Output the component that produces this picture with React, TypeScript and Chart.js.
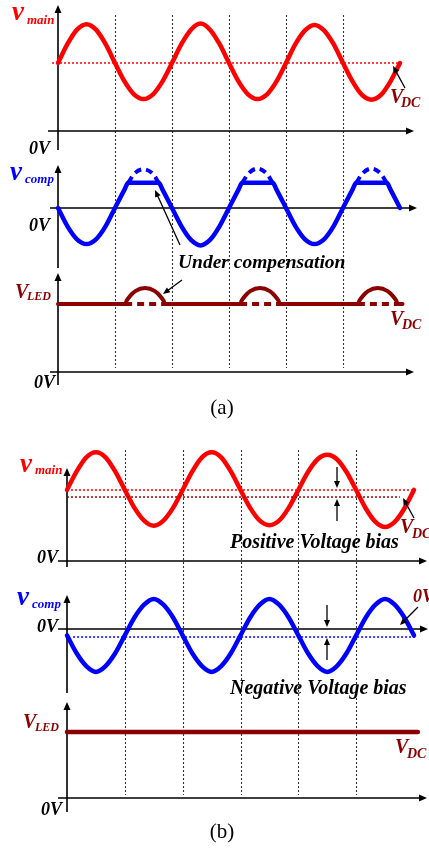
import React, { useEffect, useRef } from "react";
import { Chart, registerables } from "chart.js";
Chart.register(...registerables);

// ---------------- data: phase in degrees, voltages in per-unit ----------------
const PHASE = [0, 30, 60, 90, 120, 150, 180, 210, 240, 270, 300, 330, 360, 390, 420, 450, 480, 510, 540, 570, 600, 630, 660, 690, 720, 750, 780, 810, 840, 870, 900, 930, 960, 990, 1020, 1050, 1080];

// (a) v_main
const MAIN_A = [1.0, 1.28, 1.49, 1.57, 1.49, 1.28, 1.0, 0.73, 0.54, 0.47, 0.54, 0.73, 1.0, 1.28, 1.49, 1.58, 1.49, 1.28, 1.0, 0.73, 0.54, 0.47, 0.54, 0.73, 1.0, 1.28, 1.48, 1.56, 1.48, 1.28, 1.0, 0.73, 0.53, 0.46, 0.53, 0.73, 1.0];
const VDC_A_X = [-19, 1080];
const VDC_A_Y = [1.0, 1.0];
// (a) v_comp (clipped) and its uncompensated part (dashed)
const COMP_A_X = [0, 30, 60, 90, 120, 150, 180, 210, 222, 318, 330, 360, 390, 420, 450, 480, 510, 540, 570, 582, 678, 690, 720, 750, 780, 810, 840, 870, 900, 930, 942, 1038, 1050, 1080];
const COMP_A_Y = [0, -0.27, -0.46, -0.53, -0.46, -0.27, 0, 0.27, 0.37, 0.37, 0.27, 0, -0.27, -0.47, -0.55, -0.47, -0.27, 0, 0.27, 0.37, 0.37, 0.27, 0, -0.27, -0.46, -0.53, -0.46, -0.27, 0, 0.27, 0.37, 0.37, 0.27, 0];
const COMP_A_FULL_X = [222, 240, 270, 300, 318, 450, 582, 600, 630, 660, 678, 810, 942, 960, 990, 1020, 1038];
const COMP_A_FULL_Y = [0.37, 0.5, 0.57, 0.5, 0.37, null, 0.37, 0.5, 0.58, 0.5, 0.37, null, 0.37, 0.5, 0.58, 0.5, 0.37];
// (a) V_LED
const LED_A_X = [0, 212, 217, 228, 244, 275, 306, 322, 333, 338, 575, 580, 591, 607, 638, 669, 685, 696, 701, 947, 952, 963, 979, 1010, 1041, 1057, 1068, 1073, 1088];
const LED_A_Y = [1, 1, 1.05, 1.12, 1.19, 1.235, 1.19, 1.12, 1.05, 1, 1, 1.05, 1.12, 1.19, 1.235, 1.19, 1.12, 1.05, 1, 1, 1.05, 1.12, 1.19, 1.235, 1.19, 1.12, 1.05, 1, 1];
const LED_A_FLAT_X = [212, 338, 455, 575, 701, 820, 947, 1073];
const LED_A_FLAT_Y = [1, 1, null, 1, 1, null, 1, 1];
const GUIDES_A = [180, 360, 540, 720, 900];

// (b) v_main with positive bias
const MAIN_B = [1.11, 1.4, 1.62, 1.7, 1.62, 1.4, 1.11, 0.83, 0.63, 0.55, 0.63, 0.83, 1.11, 1.4, 1.62, 1.7, 1.62, 1.4, 1.11, 0.83, 0.63, 0.56, 0.63, 0.83, 1.11, 1.39, 1.59, 1.66, 1.59, 1.39, 1.11, 0.82, 0.61, 0.53, 0.61, 0.82, 1.11];
const MEAN_B_X = [0, 1080];
const MEAN_B_Y = [1.11, 1.11];
const VDC_B_X = [0, 1036];
const VDC_B_Y = [1.0, 1.0];
// (b) v_comp with negative bias
const COMP_B = [-0.1, -0.38, -0.58, -0.67, -0.58, -0.38, -0.1, 0.18, 0.38, 0.47, 0.38, 0.18, -0.1, -0.38, -0.58, -0.67, -0.58, -0.38, -0.1, 0.18, 0.38, 0.47, 0.38, 0.18, -0.1, -0.38, -0.58, -0.67, -0.58, -0.38, -0.1, 0.18, 0.38, 0.47, 0.38, 0.18, -0.1];
const COMP_MEAN_B_X = [19, 1089];
const COMP_MEAN_B_Y = [-0.125, -0.125];
// (b) V_LED
const LED_B_X = [0, 1092];
const LED_B_Y = [1, 1];
const GUIDES_B = [180, 360, 540, 720, 900];

// ---------------- layout / style ----------------
const W = 429;
const H = 848;
const RED = "#ff0000";
const BLUE = "#0000ff";
const DARK = "#8b0000";
const FONT = '"Liberation Serif", "Times New Roman", serif';

function xScale(originPx: number, pxPerDeg: number) {
  const min = -originPx / pxPerDeg;
  return { type: "linear", axis: "x", display: false, min, max: min + W / pxPerDeg };
}
function yScale(zeroPx: number, pxPerUnit: number) {
  const max = zeroPx / pxPerUnit;
  return { type: "linear", axis: "y", display: false, min: max - H / pxPerUnit, max };
}

const AXES = [
  { x: "xa", y: "ya1", top: 5, bottom: 150, left: 48, right: 414 },
  { x: "xa", y: "ya2", top: 165, bottom: 268, left: 50, right: 417 },
  { x: "xa", y: "ya3", top: 273, bottom: 385, left: 50, right: 414 },
  { x: "xb", y: "yb1", top: 468, bottom: 567, left: 58, right: 427 },
  { x: "xb", y: "yb2", top: 595, bottom: 693, left: 58, right: 428 },
  { x: "xb", y: "yb3", top: 702, bottom: 812, left: 58, right: 427 },
];
const GUIDE_SETS = [
  { x: "xa", phases: GUIDES_A, top: 15, bottom: 368 },
  { x: "xb", phases: GUIDES_B, top: 450, bottom: 795 },
];

type T = { t: string; x: number; y: number; s: number; c?: string; a?: CanvasTextAlign; n?: boolean };
const TEXTS: T[] = [
  { t: "v", x: 12, y: 20, s: 27, c: RED },
  { t: "main", x: 27, y: 24, s: 13, c: RED },
  { t: "0V", x: 50, y: 154, s: 18, a: "right" },
  { t: "v", x: 10, y: 180, s: 27, c: BLUE },
  { t: "comp", x: 25, y: 183, s: 13, c: BLUE },
  { t: "0V", x: 50, y: 231, s: 18, a: "right" },
  { t: "V", x: 15, y: 298, s: 20, c: DARK },
  { t: "LED", x: 27, y: 300, s: 12, c: DARK },
  { t: "0V", x: 55, y: 388, s: 18, a: "right" },
  { t: "V", x: 390, y: 103, s: 20, c: DARK },
  { t: "DC", x: 401, y: 107, s: 14, c: DARK },
  { t: "V", x: 390, y: 325, s: 20, c: DARK },
  { t: "DC", x: 402, y: 329, s: 14, c: DARK },
  { t: "Under compensation", x: 178, y: 268, s: 19.5 },
  { t: "(a)", x: 222, y: 414, s: 21, a: "center", n: true },
  { t: "v", x: 20, y: 472, s: 27, c: RED },
  { t: "main", x: 35, y: 474, s: 13, c: RED },
  { t: "0V", x: 58, y: 563, s: 18, a: "right" },
  { t: "V", x: 400, y: 533, s: 20, c: DARK },
  { t: "DC", x: 412, y: 538, s: 14, c: DARK },
  { t: "Positive Voltage bias", x: 230, y: 548, s: 20 },
  { t: "v", x: 17, y: 605, s: 27, c: BLUE },
  { t: "comp", x: 32, y: 608, s: 13, c: BLUE },
  { t: "0V", x: 58, y: 632, s: 18, a: "right" },
  { t: "0V", x: 413, y: 602, s: 18, c: DARK },
  { t: "Negative Voltage bias", x: 230, y: 694, s: 20 },
  { t: "V", x: 23, y: 728, s: 20, c: DARK },
  { t: "LED", x: 35, y: 731, s: 12, c: DARK },
  { t: "0V", x: 62, y: 815, s: 18, a: "right" },
  { t: "V", x: 395, y: 753, s: 20, c: DARK },
  { t: "DC", x: 407, y: 758, s: 14, c: DARK },
  { t: "(b)", x: 222, y: 838, s: 21, a: "center", n: true },
];
const ARROWS = [
  [405, 88, 393, 66],
  [180, 245, 155, 190],
  [182, 280, 163, 294],
  [414, 518, 403, 498],
  [337, 467, 337, 488],
  [337, 521, 337, 499],
  [418, 607, 400, 625],
  [327, 605, 327, 627],
  [327, 660, 327, 638],
];

function pts(xs: number[], ys: (number | null)[]) {
  return xs.map((x, i) => ({ x, y: ys[i] }));
}

function head(ctx: CanvasRenderingContext2D, x1: number, y1: number, x2: number, y2: number, len: number, hw: number) {
  const a = Math.atan2(y2 - y1, x2 - x1);
  ctx.beginPath();
  ctx.moveTo(x2, y2);
  ctx.lineTo(x2 - len * Math.cos(a) + hw * Math.sin(a), y2 - len * Math.sin(a) - hw * Math.cos(a));
  ctx.lineTo(x2 - len * Math.cos(a) - hw * Math.sin(a), y2 - len * Math.sin(a) + hw * Math.cos(a));
  ctx.closePath();
  ctx.fill();
}

const deco = {
  id: "deco",
  beforeDatasetsDraw(chart: any) {
    const ctx: CanvasRenderingContext2D = chart.ctx;
    // guides
    ctx.save();
    ctx.strokeStyle = "#333";
    ctx.lineWidth = 1.1;
    ctx.setLineDash([2, 2]);
    GUIDE_SETS.forEach((g) => {
      const sx = chart.scales[g.x];
      g.phases.forEach((p) => {
        const x = Math.round(sx.getPixelForValue(p)) + 0.5;
        ctx.beginPath();
        ctx.moveTo(x, g.top);
        ctx.lineTo(x, g.bottom);
        ctx.stroke();
      });
    });
    ctx.restore();
    // axes
    ctx.save();
    ctx.strokeStyle = "#000";
    ctx.fillStyle = "#000";
    ctx.lineWidth = 1.6;
    AXES.forEach((a) => {
      const ox = chart.scales[a.x].getPixelForValue(0);
      const oy = chart.scales[a.y].getPixelForValue(0);
      ctx.beginPath();
      ctx.moveTo(ox, a.bottom);
      ctx.lineTo(ox, a.top + 6);
      ctx.moveTo(a.left, oy);
      ctx.lineTo(a.right - 6, oy);
      ctx.stroke();
      head(ctx, ox, a.bottom, ox, a.top, 8, 3.5);
      head(ctx, a.left, oy, a.right, oy, 8, 3.5);
    });
    ctx.restore();
  },
  afterDatasetsDraw(chart: any) {
    const ctx: CanvasRenderingContext2D = chart.ctx;
    ctx.save();
    ctx.textBaseline = "alphabetic";
    TEXTS.forEach((t) => {
      ctx.font = `${t.n ? "" : "italic bold "}${t.s}px ${FONT}`;
      ctx.fillStyle = t.c || "#000";
      ctx.textAlign = t.a || "left";
      ctx.fillText(t.t, t.x, t.y);
    });
    ctx.strokeStyle = "#000";
    ctx.fillStyle = "#000";
    ctx.lineWidth = 1.3;
    ARROWS.forEach(([x1, y1, x2, y2]) => {
      const a = Math.atan2(y2 - y1, x2 - x1);
      ctx.beginPath();
      ctx.moveTo(x1, y1);
      ctx.lineTo(x2 - 5 * Math.cos(a), y2 - 5 * Math.sin(a));
      ctx.stroke();
      head(ctx, x1, y1, x2, y2, 7, 3);
    });
    ctx.restore();
  },
};

function line(data: any[], color: string, width: number, xAxisID: string, yAxisID: string, dash: number[] = []) {
  return {
    type: "line",
    data,
    borderColor: color,
    borderWidth: width,
    borderDash: dash,
    borderCapStyle: dash.length ? "butt" : "round",
    borderJoinStyle: "round",
    pointRadius: 0,
    fill: false,
    spanGaps: false,
    cubicInterpolationMode: "monotone",
    xAxisID,
    yAxisID,
  };
}

export default function App() {
  const ref = useRef<HTMLCanvasElement>(null);
  useEffect(() => {
    const datasets: any[] = [
      line(pts(VDC_A_X, VDC_A_Y), RED, 1.4, "xa", "ya1", [2, 2]),
      line(pts(PHASE, MAIN_A), RED, 4.5, "xa", "ya1"),
      line(pts(COMP_A_FULL_X, COMP_A_FULL_Y), BLUE, 4, "xa", "ya2", [7, 5]),
      line(pts(COMP_A_X, COMP_A_Y), BLUE, 4.5, "xa", "ya2"),
      line(pts(LED_A_FLAT_X, LED_A_FLAT_Y), DARK, 4, "xa", "ya3", [7, 5]),
      line(pts(LED_A_X, LED_A_Y), DARK, 4, "xa", "ya3"),
      line(pts(MEAN_B_X, MEAN_B_Y), RED, 1.4, "xb", "yb1", [2, 2]),
      line(pts(VDC_B_X, VDC_B_Y), "#a00000", 1.4, "xb", "yb1", [2, 2]),
      line(pts(PHASE, MAIN_B), RED, 4.5, "xb", "yb1"),
      line(pts(COMP_MEAN_B_X, COMP_MEAN_B_Y), BLUE, 1.4, "xb", "yb2", [2, 2]),
      line(pts(PHASE, COMP_B), BLUE, 4.5, "xb", "yb2"),
      line(pts(LED_B_X, LED_B_Y), DARK, 4.5, "xb", "yb3"),
    ];
    const chart = new Chart(ref.current as HTMLCanvasElement, {
      type: "line",
      data: { datasets },
      options: {
        responsive: false,
        animation: false,
        devicePixelRatio: 1,
        events: [],
        layout: { padding: 0 },
        plugins: { legend: { display: false }, tooltip: { enabled: false }, title: { display: false } },
        scales: {
          xa: xScale(58, 342 / 1080),
          xb: xScale(67, 347 / 1080),
          ya1: yScale(131, 68),
          ya2: yScale(208, 68),
          ya3: yScale(372, 68),
          yb1: yScale(561, 64),
          yb2: yScale(629, 64),
          yb3: yScale(798, 66),
        } as any,
      },
      plugins: [deco as any],
    } as any);
    return () => chart.destroy();
  }, []);
  return (
    <canvas
      ref={ref}
      width={W}
      height={H}
      style={{ position: "absolute", left: 0, top: 0, display: "block", background: "#fff" }}
    />
  );
}
